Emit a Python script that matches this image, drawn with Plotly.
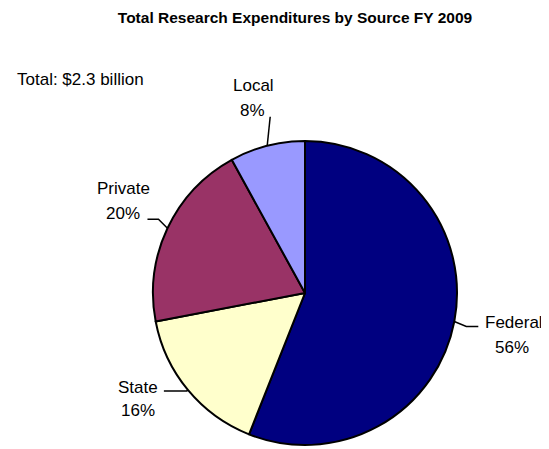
import math
import plotly.graph_objects as go

labels = ["Federal", "State", "Private", "Local"]
values = [56, 16, 20, 8]
colors = ["#000080", "#FFFFCC", "#993366", "#9999FF"]
title_text = "Total Research Expenditures by Source FY 2009"
total_text = "Total: $2.3 billion"

# page has an 8px body margin; work in screen pixels and shift
OFF = 8
W, H = 541, 441
FONT = "Liberation Sans, Arial, sans-serif"

# pie geometry (screen pixels)
cx, cy, R = 305, 293, 152

def px(x, y):
    return (x - OFF) / W, 1 - (y - OFF) / H

x0, y0 = px(cx - R, cy + R)
x1, y1 = px(cx + R, cy - R)

fig = go.Figure(go.Pie(
    labels=labels, values=values, sort=False, direction="clockwise", rotation=0,
    marker=dict(colors=colors, line=dict(color="black", width=2)),
    textinfo="none", hoverinfo="label+percent", showlegend=False,
    domain=dict(x=[x0, x1], y=[y0, y1]),
))

# label placement (screen pixels): name center, percent center, leader elbow offsets
label_pos = {
    "Federal": ((514, 322), (512, 347), (12, 5), (12, 0)),
    "State": ((138, 387), (138, 410), (-1, 1), (-23, 0)),
    "Private": ((123, 188), (123, 213), (-9, -9), (-11, 0)),
    "Local": ((253, 85), (252, 110), (3, -29), (0, 0)),
}

total = sum(values)
cum = 0
annotations = []
shapes = []
for lab, v in zip(labels, values):
    mid = (cum + v / 2) / total * 2 * math.pi
    cum += v
    sx = cx + R * math.sin(mid)
    sy = cy - R * math.cos(mid)
    npos, ppos, e1, e2 = label_pos[lab]
    pct = round(v / total * 100)
    for txt, pos in ((lab, npos), (f"{pct}%", ppos)):
        ax, ay = px(*pos)
        annotations.append(dict(x=ax, y=ay, xref="paper", yref="paper", xanchor="center", yanchor="middle",
                                text=txt, showarrow=False,
                                font=dict(family=FONT, size=17, color="black")))
    p1 = (sx + e1[0], sy + e1[1])
    p2 = (p1[0] + e2[0], p1[1] + e2[1])
    pts = [px(sx, sy), px(*p1), px(*p2)]
    path = "M {} {} L {} {} L {} {}".format(pts[0][0], pts[0][1], pts[1][0], pts[1][1], pts[2][0], pts[2][1])
    shapes.append(dict(type="path", xref="paper", yref="paper", path=path, line=dict(color="black", width=1.5)))

tx, ty = px(15, 80)
annotations.append(dict(x=tx, y=ty, xref="paper", yref="paper", xanchor="left", yanchor="middle",
                        text=total_text, showarrow=False, font=dict(family=FONT, size=17, color="black")))

ttx, tty = px(295, 18)
fig.update_layout(
    width=W, height=H, margin=dict(l=0, r=0, t=0, b=0),
    paper_bgcolor="white", plot_bgcolor="white",
    title=dict(text=f"<b>{title_text}</b>", x=ttx, xanchor="center", y=tty, yanchor="middle",
               font=dict(family=FONT, size=15.5, color="black")),
    annotations=annotations, shapes=shapes,
)

fig.write_html("out.html")
